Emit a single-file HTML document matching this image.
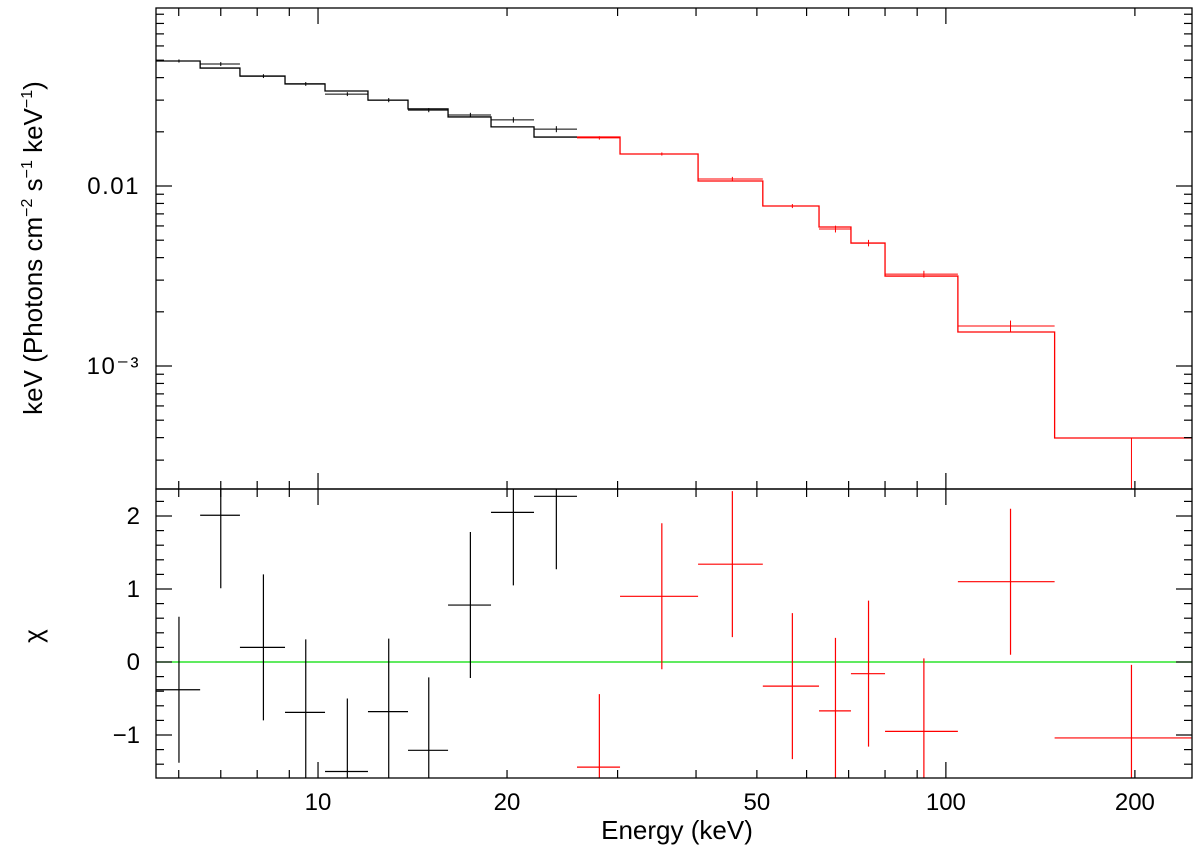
<!DOCTYPE html>
<html><head><meta charset="utf-8"><style>
html,body{margin:0;padding:0;background:#fff;}
svg{display:block;font-family:"Liberation Sans",sans-serif;}
</style></head><body>
<svg id="chart" width="1200" height="847" viewBox="0 0 1200 847" xmlns="http://www.w3.org/2000/svg"></svg>
<script>
const binEdgesBlack = [5.52, 6.49, 7.51, 8.86, 10.26, 12.01, 13.91, 16.11, 18.86, 22.08, 25.85];
const binEdgesRed = [25.85, 30.27, 40.3, 51.1, 62.8, 70.6, 80.0, 104.5, 149, 246];
const modelBlack = [0.0495, 0.0452, 0.0408, 0.0369, 0.0337, 0.0300, 0.0268, 0.0242, 0.0213, 0.0187];
const dataBlack = [0.0495, 0.0476, 0.0408, 0.0369, 0.0324, 0.0300, 0.0264, 0.0248, 0.0233, 0.0207];
const errBlack = [0.001, 0.0012, 0.001, 0.0009, 0.0008, 0.0008, 0.0007, 0.0007, 0.0008, 0.0008];
const modelRed = [0.0187, 0.01506, 0.01066, 0.00774, 0.00592, 0.00482, 0.00316, 0.001545, 0.000398];
const dataRed = [0.0185, 0.01506, 0.01094, 0.00774, 0.00577, 0.00482, 0.00324, 0.001668, 0.000398];
const errRedHi = [0.0004, 0.0003, 0.0003, 0.0002, 0.00025, 0.0002, 0.00014, 0.00012, 0.00000];
const errRedLo = [0.0004, 0.0003, 0.0003, 0.0002, 0.00025, 0.0002, 0.00014, 0.00012, 0.00039];
const resBlack = [-0.38, 2.01, 0.2, -0.69, -1.5, -0.68, -1.21, 0.78, 2.05, 2.27];
const resRed = [-1.44, 0.9, 1.34, -0.33, -0.67, -0.16, -0.95, 1.1, -1.04];
const xTickLabels = [10, 20, 50, 100, 200];
const yTopLabels = [["0.01", 0.01], ["10\u207B\u00B3", 0.001]];
const yResLabels = [-1, 0, 1, 2];

const L=156,R=1192,T=8,M=489,B=778;
const xmin=Math.log10(5.52), xmax=Math.log10(246.6);
const X=e=>L+(Math.log10(e)-xmin)/(xmax-xmin)*(R-L);
const Y=v=>186-(Math.log10(v)+2)*180;
const YR=c=>662-c*73;
const svg=document.getElementById('chart');
const NS='http://www.w3.org/2000/svg';
function el(tag,attrs,parent){const e=document.createElementNS(NS,tag);for(const k in attrs)e.setAttribute(k,attrs[k]);(parent||svg).appendChild(e);return e;}
function line(x1,y1,x2,y2,c,w,g){return el('line',{x1,y1,x2,y2,stroke:c,'stroke-width':w||1},g);}
const clipT=el('clipPath',{id:'ct'});el('rect',{x:L,y:T,width:R-L,height:M-T},clipT);
const clipB=el('clipPath',{id:'cb'});el('rect',{x:L,y:M,width:R-L,height:B-M},clipB);
const ctr=(a,b)=>(a+b)/2;

function drawSeries(edges,model,data,eLo,eHi,col,name){
  const g=el('g',{'clip-path':'url(#ct)'});
  
  
  let d='';
  for(let i=0;i<model.length;i++){
    const x1=X(edges[i]),x2=X(edges[i+1]),y=Y(model[i]);
    d+=(i===0?'M':'L')+x1+','+y+'L'+x2+','+y;
  }
  const p=el('path',{d,fill:'none',stroke:col,'stroke-width':1.3},g);
  
  
  for(let i=0;i<data.length;i++){
    const x1=X(edges[i]),x2=X(edges[i+1]),xc=X(ctr(edges[i],edges[i+1])),y=Y(data[i]);
    const h=line(x1,y,x2,y,col,1,g);
    
    
    const lo=Math.max(data[i]-eLo[i],1e-6);
    line(xc,Y(data[i]+eHi[i]),xc,Y(lo),col,1,g);
  }
}
drawSeries(binEdgesBlack,modelBlack,dataBlack,errBlack,errBlack,'#000','black');
drawSeries(binEdgesRed,modelRed,dataRed,errRedLo,errRedHi,'#ff0000','red');

const gR=el('g',{'clip-path':'url(#cb)'});


const z=line(L,YR(0),R,YR(0),'#00dd00',1.3,gR);


function drawRes(edges,res,col,name){
  for(let i=0;i<res.length;i++){
    const x1=X(edges[i]),x2=X(edges[i+1]),xc=X(ctr(edges[i],edges[i+1])),y=YR(res[i]);
    const h=line(x1,y,x2,y,col,1.2,gR);
    
    
    line(xc,YR(res[i]+1),xc,YR(res[i]-1),col,1.2,gR);
  }
}
drawRes(binEdgesBlack,resBlack,'#000','black');
drawRes(binEdgesRed,resRed,'#ff0000','red');

const f1=el('rect',{x:L,y:T,width:R-L,height:M-T,fill:'none',stroke:'#000','stroke-width':1.3});

const f2=el('rect',{x:L,y:M,width:R-L,height:B-M,fill:'none',stroke:'#000','stroke-width':1.3});


const axg=el('g',{});
for(let dec=1;dec<=100;dec*=10){for(let m=1;m<10;m++){const e=m*dec;if(e<5.52||e>246.6)continue;
  const x=X(e),len=(m===1)?16:8;
  for(const [y0,dir] of [[T,1],[M,-1],[M,1],[B,-1]]) line(x,y0,x,y0+dir*len,'#000',1.2,axg);
}}
xTickLabels.forEach(v=>{const t=el('text',{x:X(v),y:810,'font-size':24,'text-anchor':'middle'});t.textContent=v;
  });
for(let dec=1e-4;dec<=0.1;dec*=10){for(let m=1;m<10;m++){const v=m*dec;const y=Y(v);if(y<T||y>M)continue;
  const len=(m===1)?16:8;line(L,y,L+len,y,'#000',1.2,axg);line(R,y,R-len,y,'#000',1.2,axg);}}
yTopLabels.forEach(([s,v])=>{const t=el('text',{x:140,y:Y(v)+8,'font-size':24,'text-anchor':'end','letter-spacing':1.5});t.textContent=s;
  });
for(let k=-15;k<=23;k++){const c=k/10;if(k%2!==0)continue;const y=YR(c);if(y<M||y>B)continue;
  const len=(k%10===0)?16:8;line(L,y,L+len,y,'#000',1.2,axg);line(R,y,R-len,y,'#000',1.2,axg);}
yResLabels.forEach(v=>{const t=el('text',{x:140,y:YR(v)+8,'font-size':24,'text-anchor':'end'});t.textContent=v<0?'\u2212'+(-v):v;
  });

const xt=el('text',{x:677,y:839,'font-size':26,'text-anchor':'middle'});xt.textContent='Energy (keV)';

const yt=el('text',{x:0,y:0,'font-size':26,'text-anchor':'middle',transform:'translate(42,248) rotate(-90)'});
yt.innerHTML='keV (Photons cm<tspan font-size="16" dy="-10">\u22122</tspan><tspan dy="10"> s</tspan><tspan font-size="16" dy="-10">\u22121</tspan><tspan dy="10"> keV</tspan><tspan font-size="16" dy="-10">\u22121</tspan><tspan dy="10">)</tspan>';

const ct=el('text',{x:0,y:0,'font-size':26,'text-anchor':'middle',transform:'translate(42,636) rotate(-90)'});ct.textContent='\u03C7';

</script>
</body></html>
